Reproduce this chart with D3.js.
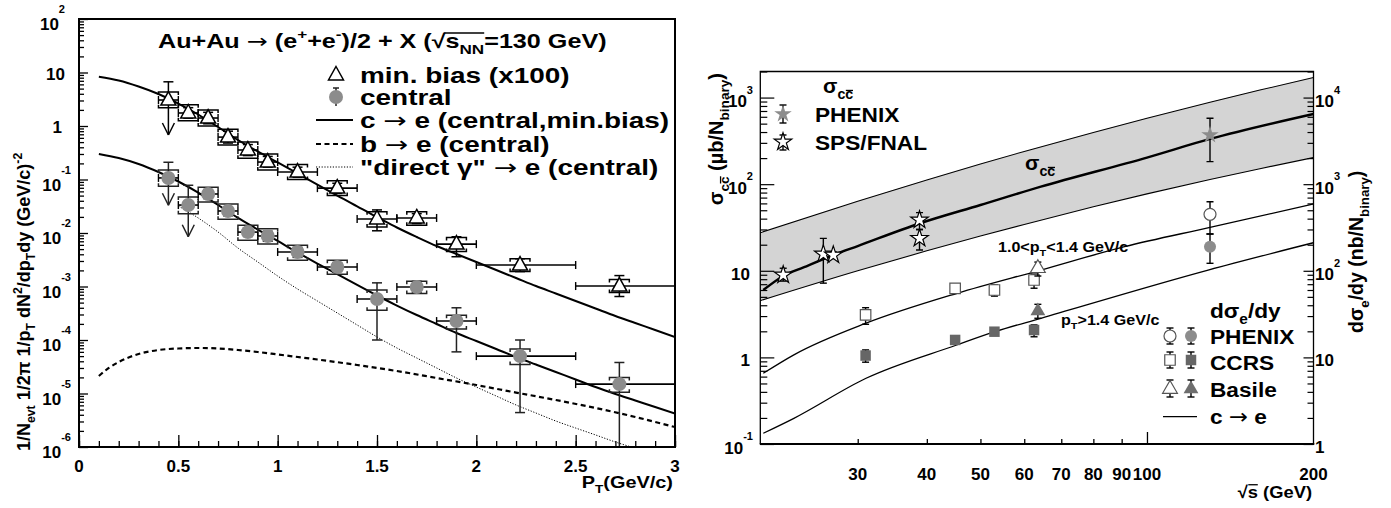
<!DOCTYPE html>
<html>
<head>
<meta charset="utf-8">
<script src="https://cdnjs.cloudflare.com/ajax/libs/d3/7.8.5/d3.min.js"></script>
<style>
  body { margin: 0; background: #fff; }
  svg { display: block; }
  text { font-family: "Liberation Sans", Arial, Helvetica, sans-serif; font-weight: bold; fill: #000; }
</style>
</head>
<body>
<svg id="chart" width="1391" height="508"></svg>
<script>
// ---------- left panel: electron spectra ----------
const ptMid = [0.45, 0.55, 0.65, 0.75, 0.85, 0.95, 1.1, 1.3, 1.5, 1.7, 1.9, 2.22, 2.72];
const ptLo  = [0.4, 0.5, 0.6, 0.7, 0.8, 0.9, 1.0, 1.2, 1.4, 1.6, 1.8, 2.0, 2.5];
const ptHi  = [0.5, 0.6, 0.7, 0.8, 0.9, 1.0, 1.2, 1.4, 1.6, 1.8, 2.0, 2.5, 3.0];

// min. bias (x100), open triangles
const mbVal   = [3.06, 1.75, 1.41, 0.62, 0.356, 0.212, 0.138, 0.069, 0.0183, 0.0191, 0.0062, 0.00252, 0.00102];
const mbErrHi = [6.7, 2.2, 1.8, 0.8, 0.45, 0.27, 0.17, 0.085, 0.027, 0.023, 0.0085, 0.0033, 0.0016];
const mbErrLo = [null, 1.4, 1.1, 0.48, 0.28, 0.17, 0.11, 0.055, 0.011, 0.015, 0.0036, 0.0019, 0.00065];
const mbSysHi = [4.3, 2.5, 2.0, 0.87, 0.5, 0.3, 0.19, 0.095, 0.025, 0.025, 0.0082, 0.0033, 0.00135];
const mbSysLo = [2.2, 1.25, 1.0, 0.44, 0.25, 0.15, 0.1, 0.05, 0.013, 0.014, 0.0045, 0.0019, 0.00077];
const mbLimit = [0.68, null, null, null, null, null, null, null, null, null, null, null, null];

// central, gray circles
const cenVal   = [0.107, 0.0333, 0.0536, 0.0258, 0.0104, 0.0088, 0.00442, 0.00231, 0.000583, 0.00098, 0.000226, 5.0e-5, 1.5e-5];
const cenErrHi = [0.21, 0.078, 0.065, 0.031, 0.0125, 0.0108, 0.0054, 0.0028, 0.00117, 0.00125, 0.0004, 1.0e-4, 3.8e-5];
const cenErrLo = [null, null, 0.044, 0.021, 0.0086, 0.007, 0.0035, 0.0019, 1.0e-4, 0.00077, 6e-5, 4.4e-6, 8e-7];
const cenSysHi = [0.15, 0.047, 0.072, 0.035, 0.014, 0.012, 0.0059, 0.0031, 0.00086, 0.00125, 0.00029, 6.8e-5, 2.0e-5];
const cenSysLo = [0.075, 0.023, 0.038, 0.018, 0.0073, 0.0062, 0.0031, 0.0017, 0.00036, 0.00074, 0.00016, 3.5e-5, 1.05e-5];
const cenLimit = [0.033, 0.0085, null, null, null, null, null, null, null, null, null, null, null];

// model curves
const cGrid = [0.1, 0.2, 0.3, 0.4, 0.5, 0.6, 0.7, 0.8, 0.9, 1.0, 1.1, 1.2, 1.3, 1.4, 1.5,
               1.6, 1.7, 1.8, 1.9, 2.0, 2.1, 2.2, 2.3, 2.4, 2.5, 2.6, 2.7, 2.8, 2.9, 3.0];
const cMinBias = [8.35, 7.09, 5.47, 3.96, 2.63, 1.64, 0.958, 0.547, 0.334, 0.208, 0.1295, 0.0806, 0.0502, 0.0313, 0.0199,
                  0.01267, 0.00842, 0.00571, 0.00405, 0.00287, 0.00203, 0.00144, 0.00102, 0.00074, 0.000536, 0.000388,
                  0.000281, 0.000208, 0.000154, 0.000114];
const cCentral = [0.300, 0.252, 0.195, 0.138, 0.0918, 0.0571, 0.0334, 0.0191, 0.0116, 0.00709, 0.00432, 0.00269, 0.00171,
                  0.00107, 0.000679, 0.000441, 0.000293, 0.000199, 0.000135, 9.58e-5, 6.79e-5, 4.81e-5, 3.48e-5, 2.52e-5,
                  1.83e-5, 1.32e-5, 9.79e-6, 7.40e-6, 5.59e-6, 4.23e-6];
const bGrid = [0.1, 0.15, 0.2, 0.3, 0.4, 0.5, 0.6, 0.7, 0.8, 0.9, 1.0, 1.2, 1.4, 1.6, 1.8, 2.0, 2.2, 2.4, 2.6, 2.8, 3.0];
const bCentral = [2.12e-5, 3.00e-5, 3.88e-5, 5.47e-5, 6.50e-5, 6.94e-5, 7.09e-5, 6.94e-5, 6.50e-5, 5.97e-5, 5.36e-5,
                  4.32e-5, 3.41e-5, 2.63e-5, 1.95e-5, 1.44e-5, 1.04e-5, 7.56e-6, 5.36e-6, 3.64e-6, 2.36e-6];
const gGrid = [0.5, 0.6, 0.7, 0.8, 0.9, 1.0, 1.1, 1.2, 1.3, 1.4, 1.5, 1.6, 1.7, 1.8, 1.9, 2.0, 2.1, 2.2, 2.3, 2.4,
               2.5, 2.6, 2.7, 2.78];
const gCentral = [0.0320, 0.0191, 0.01044, 0.00524, 0.00287, 0.00157, 0.000898, 0.000536, 0.000320, 0.000191, 0.000114,
                  7.09e-5, 4.61e-5, 3.00e-5, 1.95e-5, 1.32e-5, 8.98e-6, 6.10e-6, 4.32e-6, 3.06e-6, 2.26e-6, 1.68e-6,
                  1.24e-6, 1.0e-6];

const ptTickLabels = [0, 0.5, 1, 1.5, 2, 2.5, 3];

// ---------- right panel: charm cross section vs sqrt(s) ----------
const bandS  = [20, 30, 40, 50, 60, 80, 100, 130, 160, 200];
const bandHi = [27.5, 63.6, 112, 171, 239, 396, 578, 885, 1221, 1702];
const bandLo = [4.52, 10.0, 17.0, 25.2, 34.3, 54.8, 77.3, 113, 151, 203];
const sigS   = [20.25, 21.9, 24, 27.1, 30, 38.9, 50, 64.3, 100, 130, 200];
const sigCC  = [6.0, 8.55, 11.0, 15.2, 19.3, 35.4, 57.5, 93.6, 203, 333, 647];

// c -> e curves, dsigma_e/dy in nb/N_binary (right axis)
const ceLowS  = [20.25, 23, 31.06, 45.4, 64.3, 91.1, 130, 200];   // 1.0<pT<1.4
const ceLow   = [6.55, 10.7, 24.8, 55.0, 102, 190, 317, 591];
const ceHighS = [20.25, 23, 31.06, 45.3, 53.1, 64.3, 129, 200];   // pT>1.4
const ceHigh  = [1.33, 1.98, 5.74, 13.9, 19.8, 28.3, 102, 211];

// sigma_cc data (ub/N_binary)
const spsS  = [22.0, 26.0, 27.1, 38.8, 38.8];
const spsV  = [8.94, 15.6, 15.2, 38.6, 23.7];
const spsHi = [10.7, 23.7, 16.5, 46.9, 30];
const spsLo = [7.6, 7.2, 14.0, 30, 17.4];
const phxS  = [130];
const phxV  = [370];
const phxHi = [577];
const phxLo = [182];

// dsigma_e/dy data (nb/N_binary); open = 1.0<pT<1.4, filled = pT>1.4
const ccrsS = [31, 45, 53, 62.5];
const ccrsOpen = [30.9, 62.8, 60, 78.3];
const ccrsOpenHi = [37.5, 68, 68.6, 91.6];
const ccrsOpenLo = [24.1, 58, 51, 62.9];
const ccrsFill = [10.5, 15.9, 19.8, 20.7];
const ccrsFillHi = [12.2, 17.0, 21.0, 23.7];
const ccrsFillLo = [8.8, 15.0, 18.8, 17.3];
const basS = [63.5];
const basOpen = [107], basOpenHi = [126], basOpenLo = [87];
const basFill = [34.3], basFillHi = [41], basFillLo = [28.3];
const pheS = [130];
const pheOpen = [449], pheOpenHi = [628], pheOpenLo = [266];
const pheFill = [190], pheFillHi = [266], pheFillLo = [122];

const sTickLabels = [30, 40, 50, 60, 70, 80, 90, 100, 200];

// ---------------------------------------------------------------
const svg = d3.select('#chart');
const L = {x0: 79, x1: 675, y0: 19, y1: 447};
const R = {x0: 760.3, x1: 1313.5, y0: 71.5, y1: 444};

const xL = d3.scaleLinear().domain([0, 3]).range([L.x0, L.x1]);
const yL = d3.scaleLog().domain([1e-6, 1e2]).range([L.y1, L.y0]);
const xR = d3.scaleLog().domain([20, 200]).range([R.x0, R.x1]);
const yR = d3.scaleLog().domain([0.1, 2000]).range([R.y1, R.y0]);
const yR2 = d3.scaleLog().domain([1, 20000]).range([R.y1, R.y0]);

const defs = svg.append('defs');
defs.append('clipPath').attr('id', 'clipL').append('rect')
  .attr('x', L.x0).attr('y', L.y0).attr('width', L.x1 - L.x0).attr('height', L.y1 - L.y0);
defs.append('clipPath').attr('id', 'clipR').append('rect')
  .attr('x', R.x0).attr('y', R.y0).attr('width', R.x1 - R.x0).attr('height', R.y1 - R.y0);

// text with sub/superscripts; sx stretches it horizontally (ROOT fonts are wide)
// a part of kind 'arr' is drawn in DejaVu Sans, whose arrow is longer
function rich(parent, x, y, parts, fs, anchor, rot, sx) {
  const grp = parent.append('g').attr('transform', `translate(${x},${y})` + (rot ? ` rotate(${rot})` : '') + (sx ? ` scale(${sx},1)` : ''));
  const t = grp.append('text').attr('text-anchor', anchor || 'start').style('font-size', fs + 'px');
  let cur = 0;
  const spans = [];
  parts.forEach(p => {
    const s = Array.isArray(p) ? p[0] : p;
    const k = Array.isArray(p) ? p[1] : '';
    const off = k === 'sup' ? -fs * 0.45 : k === 'sub' ? fs * 0.3 : 0;
    const small = k === 'sup' || k === 'sub';
    const sp = t.append('tspan').attr('dy', off - cur).style('font-size', (small ? fs * 0.68 : fs) + 'px').text(s);
    if (k === 'arr') sp.style('font-family', '"DejaVu Sans", sans-serif').style('font-weight', 'normal');
    sp.base = off; sp.fs = small ? fs * 0.68 : fs;
    cur = off;
    spans.push(sp);
  });
  return {grp, t, spans};
}
function withArrows(s) {
  const out = [];
  s.split('\u2192').forEach((piece, i) => {
    if (i > 0) out.push(['\u2192', 'arr']);
    if (piece) out.push(piece);
  });
  return out;
}
function overbar(r, i, lift) {
  const sp = r.spans[i];
  const b = sp.node().getBBox();
  const yy = sp.base - sp.fs * lift;
  r.grp.append('line').attr('x1', b.x + 0.5).attr('x2', b.x + b.width - 0.3)
    .attr('y1', yy).attr('y2', yy).attr('stroke', '#000').attr('stroke-width', 1.3);
}
function seg(g, x1, y1, x2, y2, w, col) {
  g.append('line').attr('x1', x1).attr('y1', y1).attr('x2', x2).attr('y2', y2)
    .attr('stroke', col || '#000').attr('stroke-width', w || 1.5);
}
function logValues(e0, e1, ks) {
  const out = [];
  for (let e = e0; e < e1; e++) ks.forEach(k => out.push(+(k * Math.pow(10, e)).toPrecision(3)));
  return out;
}
function tickAxis(g, axis, tr, w) {
  g.append('g').attr('transform', tr).call(axis)
    .call(a => a.select('.domain').remove())
    .call(a => a.selectAll('line').attr('stroke-width', w || 1.3));
}
function decadeLabel(g, x, y, v, fs, anchor, plainDy, supDy, expDy) {
  const e = Math.round(Math.log10(v));
  if (e === 0) return rich(g, x, y + plainDy, ['1'], fs, anchor);
  if (e === 1) return rich(g, x, y + plainDy, ['10'], fs, anchor);
  const t = g.append('text').attr('x', x).attr('y', y + supDy).attr('text-anchor', anchor).style('font-size', fs + 'px');
  t.append('tspan').text('10');
  t.append('tspan').attr('dy', expDy - supDy).style('font-size', (fs * 0.65) + 'px').text(String(e));
  return t;
}

// =================== LEFT PANEL ===================
const gL = svg.append('g');

// model curves
const lineL = d3.line().x(d => xL(d[0])).y(d => yL(d[1])).curve(d3.curveMonotoneX);
const curves = gL.append('g').attr('clip-path', 'url(#clipL)').attr('fill', 'none').attr('stroke', '#000');
curves.append('path').attr('d', lineL(cGrid.map((p, i) => [p, cMinBias[i]]))).attr('stroke-width', 2);
curves.append('path').attr('d', lineL(cGrid.map((p, i) => [p, cCentral[i]]))).attr('stroke-width', 2);
curves.append('path').attr('d', lineL(bGrid.map((p, i) => [p, bCentral[i]]))).attr('stroke-width', 2.2)
  .attr('stroke-dasharray', '5,3.5');
curves.append('path').attr('d', lineL(gGrid.map((p, i) => [p, gCentral[i]]))).attr('stroke-width', 1)
  .attr('stroke-dasharray', '1.2,1.6');

// data points
function drawSet(vals, hi, lo, shi, slo, lim, col) {
  const g = gL.append('g').attr('clip-path', 'url(#clipL)');
  vals.forEach((v, i) => {
    const x = xL(ptMid[i]), y = yL(v);
    const xa = xL(ptLo[i]), xb = xL(ptHi[i]);
    seg(g, xa, y, xb, y, 1.6);
    seg(g, xa, y - 4, xa, y + 4, 1.4);
    seg(g, xb, y - 4, xb, y + 4, 1.4);
    const yt = yL(hi[i]);
    const yb = lo[i] != null ? yL(lo[i]) : y;
    seg(g, x, yt, x, yb, 1.5, col);
    seg(g, x - 5, yt, x + 5, yt, 1.5, col);
    if (lo[i] != null) seg(g, x - 5, yb, x + 5, yb, 1.5, col);
    if (lim[i] != null) {
      const ya = yL(lim[i]);
      seg(g, x, y, x, ya, 1.5, col);
      seg(g, x - 6, ya - 12, x, ya, 1.5, col);
      seg(g, x + 6, ya - 12, x, ya, 1.5, col);
    }
    const sa = xL(ptMid[i] - 0.05), sb = xL(ptMid[i] + 0.05);
    const ys = yL(shi[i]), ys2 = yL(slo[i]);
    g.append('path').attr('d', `M${sa},${ys + 3}V${ys}H${sb}V${ys + 3}M${sa},${ys2 - 3}V${ys2}H${sb}V${ys2 - 3}`)
      .attr('fill', 'none').attr('stroke', col).attr('stroke-width', 1.5);
  });
  return g;
}
const triPath = 'M0,-8.5L7.5,5L-7.5,5Z';
const gMb = drawSet(mbVal, mbErrHi, mbErrLo, mbSysHi, mbSysLo, mbLimit, '#000');
gMb.selectAll('path.sym').data(mbVal).join('path').attr('class', 'sym')
  .attr('transform', (d, i) => `translate(${xL(ptMid[i])},${yL(d)})`)
  .attr('d', triPath).attr('fill', '#fff').attr('stroke', '#000').attr('stroke-width', 1.5);
const gCen = drawSet(cenVal, cenErrHi, cenErrLo, cenSysHi, cenSysLo, cenLimit, '#222');
gCen.selectAll('circle.sym').data(cenVal).join('circle').attr('class', 'sym')
  .attr('cx', (d, i) => xL(ptMid[i])).attr('cy', d => yL(d)).attr('r', 7).attr('fill', '#8c8c8c');

// axes ticks
const majL = logValues(-6, 3, [1]);
const minL = logValues(-6, 2, [2, 3, 4, 5, 6, 7, 8, 9]);
tickAxis(gL, d3.axisLeft(yL).tickValues(minL).tickSize(-5).tickFormat(''), `translate(${L.x0},0)`);
tickAxis(gL, d3.axisLeft(yL).tickValues(majL).tickSize(-9).tickFormat(''), `translate(${L.x0},0)`);
tickAxis(gL, d3.axisBottom(xL).tickValues(d3.range(0, 3.001, 0.1)).tickSize(-6).tickFormat(''), `translate(0,${L.y1})`);
tickAxis(gL, d3.axisBottom(xL).tickValues(ptTickLabels).tickSize(-12).tickFormat(''), `translate(0,${L.y1})`);
gL.append('rect').attr('x', L.x0).attr('y', L.y0).attr('width', L.x1 - L.x0).attr('height', L.y1 - L.y0)
  .attr('fill', 'none').attr('stroke', '#000').attr('stroke-width', 2);

majL.forEach(v => {
  const e = Math.round(Math.log10(v));
  decadeLabel(gL, e >= 0 ? (e === 0 ? 62 : 65) : 71, yL(v), v, 17, 'end', 7, 11, -6);
});
ptTickLabels.forEach(v => {
  gL.append('text').attr('x', xL(v)).attr('y', 472).attr('text-anchor', 'middle').style('font-size', '17px').text(String(v));
});

// titles
const ttl = rich(gL, 158, 48, ['Au+Au ', ['\u2192', 'arr'], ' (e', ['+', 'sup'], '+e', ['-', 'sup'], ')/2 + X (\u221A', 's', ['NN', 'sub'], '=130 GeV)'], 19.5, 'start', 0, 1.29);
{
  // bar of the square-root sign over s_NN
  const b1 = ttl.spans[7].node().getBBox(), b2 = ttl.spans[8].node().getBBox();
  ttl.grp.append('line').attr('x1', b1.x - 1).attr('x2', b2.x + b2.width).attr('y1', -15).attr('y2', -15)
    .attr('stroke', '#000').attr('stroke-width', 1.3);
}
rich(gL, 673, 488, ['P', ['T', 'sub'], '(GeV/c)'], 17, 'end', 0, 1.17);
rich(gL, 30, 451, ['1/N', ['evt', 'sub'], ' 1/2\u03C0 1/p', ['T', 'sub'], ' dN', ['2', 'sup'], '/dp', ['T', 'sub'],
  'dy (GeV/c)', ['-2', 'sup']], 18, 'start', -90);

// legend
const legY = [75, 97, 120, 144, 167];
const legX = 336, legT = 360;
gL.append('path').attr('transform', `translate(${legX},${legY[0]})`).attr('d', triPath)
  .attr('fill', '#fff').attr('stroke', '#000').attr('stroke-width', 1.5);
seg(gL, legX, legY[1] - 9, legX, legY[1] + 9, 1.5, '#222');
seg(gL, legX - 3, legY[1] - 9, legX + 3, legY[1] - 9, 1.5, '#222');
gL.append('circle').attr('cx', legX).attr('cy', legY[1]).attr('r', 7).attr('fill', '#8c8c8c');
seg(gL, legX - 20, legY[2], legX + 17, legY[2], 2);
gL.append('line').attr('x1', legX - 20).attr('x2', legX + 17).attr('y1', legY[3]).attr('y2', legY[3])
  .attr('stroke', '#000').attr('stroke-width', 2.2).attr('stroke-dasharray', '5,3.5');
gL.append('line').attr('x1', legX - 20).attr('x2', legX + 17).attr('y1', legY[4]).attr('y2', legY[4])
  .attr('stroke', '#000').attr('stroke-width', 1).attr('stroke-dasharray', '1.2,1.6');
const legTexts = ['min. bias (x100)', 'central', 'c \u2192 e (central,min.bias)', 'b \u2192 e (central)',
  '"direct \u03B3" \u2192 e (central)'];
legTexts.forEach((s, i) => rich(gL, legT, legY[i] + 7.5, withArrows(s), 21.5, 'start', 0, 1.3));

// =================== RIGHT PANEL ===================
const gR = svg.append('g');
const plotR = gR.append('g').attr('clip-path', 'url(#clipR)');

const area = d3.area().x(d => xR(d[0])).y0(d => yR(d[1])).y1(d => yR(d[2])).curve(d3.curveMonotoneX);
const bandRows = bandS.map((s, i) => [s, bandLo[i], bandHi[i]]);
plotR.append('path').attr('d', area(bandRows)).attr('fill', '#d4d4d4');
const lineRl = d3.line().x(d => xR(d[0])).y(d => yR(d[1])).curve(d3.curveMonotoneX);
const lineRr = d3.line().x(d => xR(d[0])).y(d => yR2(d[1])).curve(d3.curveMonotoneX);
plotR.append('path').attr('d', lineRl(bandS.map((s, i) => [s, bandHi[i]]))).attr('fill', 'none').attr('stroke', '#000').attr('stroke-width', 1.1);
plotR.append('path').attr('d', lineRl(bandS.map((s, i) => [s, bandLo[i]]))).attr('fill', 'none').attr('stroke', '#000').attr('stroke-width', 1.1);
plotR.append('path').attr('d', lineRl(sigS.map((s, i) => [s, sigCC[i]]))).attr('fill', 'none').attr('stroke', '#000').attr('stroke-width', 2.4);
plotR.append('path').attr('d', lineRr(ceLowS.map((s, i) => [s, ceLow[i]]))).attr('fill', 'none').attr('stroke', '#000').attr('stroke-width', 1.3);
plotR.append('path').attr('d', lineRr(ceHighS.map((s, i) => [s, ceHigh[i]]))).attr('fill', 'none').attr('stroke', '#000').attr('stroke-width', 1.3);

function errV(g, x, yt, yb, col) {
  seg(g, x, yt, x, yb, 1.4, col);
  seg(g, x - 3.5, yt, x + 3.5, yt, 1.4, col);
  seg(g, x - 3.5, yb, x + 3.5, yb, 1.4, col);
}
const starSym = d3.symbol().type(d3.symbolStar).size(95)();
const sqSym = d3.symbol().type(d3.symbolSquare).size(110)();
const triSym = d3.symbol().type(d3.symbolTriangle).size(95)();
function drawR(g, ss, vals, hi, lo, ys, sym, fill, stroke, r) {
  vals.forEach((v, i) => errV(g, xR(ss[i]), ys(hi[i]), ys(lo[i]), '#000'));
  vals.forEach((v, i) => {
    const x = xR(ss[i]), y = ys(v);
    if (sym === 'circle') {
      g.append('circle').attr('cx', x).attr('cy', y).attr('r', r).attr('fill', fill)
        .attr('stroke', stroke || 'none').attr('stroke-width', 1.2);
    } else {
      g.append('path').attr('transform', `translate(${x},${y})`).attr('d', sym).attr('fill', fill)
        .attr('stroke', stroke || 'none').attr('stroke-width', 1.2);
    }
  });
}
drawR(plotR, spsS, spsV, spsHi, spsLo, yR, starSym, '#fff', '#000');
drawR(plotR, phxS, phxV, phxHi, phxLo, yR, starSym, '#8c8c8c', null);
drawR(plotR, ccrsS, ccrsOpen, ccrsOpenHi, ccrsOpenLo, yR2, sqSym, '#fff', '#555');
drawR(plotR, ccrsS, ccrsFill, ccrsFillHi, ccrsFillLo, yR2, sqSym, '#666', null);
drawR(plotR, basS, basOpen, basOpenHi, basOpenLo, yR2, triSym, '#fff', '#555');
drawR(plotR, basS, basFill, basFillHi, basFillLo, yR2, triSym, '#6e6e6e', null);
drawR(plotR, pheS, pheOpen, pheOpenHi, pheOpenLo, yR2, 'circle', '#fff', '#555', 6);
drawR(plotR, pheS, pheFill, pheFillHi, pheFillLo, yR2, 'circle', '#8c8c8c', null, 6);

// axes
const majR = logValues(-1, 4, [1]);
const minR = logValues(-1, 4, [2, 3, 4, 5, 6, 7, 8, 9]).filter(v => v <= 2000);
tickAxis(gR, d3.axisLeft(yR).tickValues(minR).tickSize(-7).tickFormat(''), `translate(${R.x0},0)`, 1.2);
tickAxis(gR, d3.axisLeft(yR).tickValues(majR).tickSize(-14).tickFormat(''), `translate(${R.x0},0)`, 1.2);
const majR2 = logValues(0, 5, [1]);
const minR2 = logValues(0, 5, [2, 3, 4, 5, 6, 7, 8, 9]).filter(v => v <= 20000);
tickAxis(gR, d3.axisRight(yR2).tickValues(minR2).tickSize(-6).tickFormat(''), `translate(${R.x1},0)`, 1.2);
tickAxis(gR, d3.axisRight(yR2).tickValues(majR2).tickSize(-10).tickFormat(''), `translate(${R.x1},0)`, 1.2);
tickAxis(gR, d3.axisBottom(xR).tickValues([30, 40, 50, 60, 70, 80, 90]).tickSize(-5).tickFormat(''), `translate(0,${R.y1})`, 1.3);
tickAxis(gR, d3.axisBottom(xR).tickValues([100]).tickSize(-12).tickFormat(''), `translate(0,${R.y1})`, 1.3);

gR.append('path').attr('d', `M${R.x0},${R.y1}V${R.y0}H${R.x1}V${R.y1}`).attr('fill', 'none')
  .attr('stroke', '#000').attr('stroke-width', 1.3);
seg(gR, R.x0 - 0.5, R.y1, R.x1 + 0.8, R.y1, 2.2);

majR.forEach(v => {
  const e = Math.round(Math.log10(v));
  decadeLabel(gR, (e === 0 || e === 1) ? 750 : 753, yR(v), v, 17, 'end', 9, 9.5, -4);
});
majR2.forEach(v => {
  decadeLabel(gR, 1315, yR2(v), v, 17, 'start', 8.5, 9.5, -4);
});
sTickLabels.forEach(v => {
  gR.append('text').attr('x', xR(v)).attr('y', 480).attr('text-anchor', 'middle').style('font-size', '17px').text(String(v));
});
const sx = rich(gR, 1312, 498, ['\u221A', 's', ' (GeV)'], 17, 'end', 0, 1.08);
overbar(sx, 1, 0.78);

const yt1 = rich(gR, 723, 73, ['\u03C3', ['c', 'sub'], ['c', 'sub'], ' (\u00B5b/N', ['binary', 'sub'], ')'], 20, 'end', -90);
overbar(yt1, 2, 0.62);
rich(gR, 1363, 333, ['d\u03C3', ['e', 'sub'], '/dy (nb/N', ['binary', 'sub'], ')'], 19.5, 'start', -90);

// in-plot labels
const sg1 = rich(gR, 823, 93, ['\u03C3', ['c', 'sub'], ['c', 'sub']], 21);
overbar(sg1, 2, 0.62);
const sg2 = rich(gR, 1025, 170, ['\u03C3', ['c', 'sub'], ['c', 'sub']], 21);
overbar(sg2, 2, 0.62);
rich(gR, 998, 252, ['1.0<p', ['T', 'sub'], '<1.4 GeV/c'], 14, 'start', 0, 1.15);
rich(gR, 1061, 325, ['p', ['T', 'sub'], '>1.4 GeV/c'], 14, 'start', 0, 1.15);

// legend (sigma_cc)
errV(gR, 783, 105, 123, '#000');
gR.append('path').attr('transform', 'translate(783,114)').attr('d', starSym).attr('fill', '#8c8c8c');
errV(gR, 783, 135, 150, '#000');
gR.append('path').attr('transform', 'translate(783,142)').attr('d', starSym).attr('fill', '#fff').attr('stroke', '#000').attr('stroke-width', 1.2);
rich(gR, 815, 122, ['PHENIX'], 21, 'start', 0, 1.08);
rich(gR, 815, 150, ['SPS/FNAL'], 21, 'start', 0, 1.08);

// legend (dsigma_e/dy)
rich(gR, 1210, 318, ['d\u03C3', ['e', 'sub'], '/dy'], 21, 'start', 0, 1.08);
const lgRows = [336, 360, 389];
errV(gR, 1170, 328, 344, '#000'); errV(gR, 1191, 328, 344, '#000');
gR.append('circle').attr('cx', 1170).attr('cy', lgRows[0]).attr('r', 6).attr('fill', '#fff').attr('stroke', '#555').attr('stroke-width', 1.2);
gR.append('circle').attr('cx', 1191).attr('cy', lgRows[0]).attr('r', 6).attr('fill', '#8c8c8c');
errV(gR, 1170, 352, 368, '#000'); errV(gR, 1191, 352, 368, '#000');
gR.append('path').attr('transform', `translate(1170,${lgRows[1]})`).attr('d', sqSym).attr('fill', '#fff').attr('stroke', '#555').attr('stroke-width', 1.2);
gR.append('path').attr('transform', `translate(1191,${lgRows[1]})`).attr('d', sqSym).attr('fill', '#666');
errV(gR, 1170, 380, 397, '#000'); errV(gR, 1191, 380, 397, '#000');
gR.append('path').attr('transform', `translate(1170,${lgRows[2]})`).attr('d', triSym).attr('fill', '#fff').attr('stroke', '#555').attr('stroke-width', 1.2);
gR.append('path').attr('transform', `translate(1191,${lgRows[2]})`).attr('d', triSym).attr('fill', '#6e6e6e');
seg(gR, 1163, 416.7, 1197, 416.7, 1.3);
rich(gR, 1210, 344, ['PHENIX'], 21, 'start', 0, 1.08);
rich(gR, 1210, 370, ['CCRS'], 21, 'start', 0, 1.08);
rich(gR, 1210, 397, ['Basile'], 21, 'start', 0, 1.08);
rich(gR, 1210, 424, withArrows('c \u2192 e'), 21, 'start', 0, 1.08);
</script>
</body>
</html>
